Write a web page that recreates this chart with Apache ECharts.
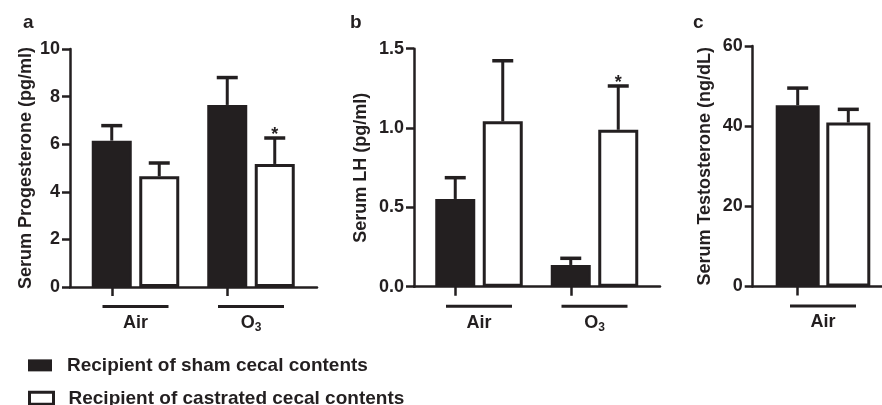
<html>
<head>
    <script src="https://cdn.jsdelivr.net/npm/echarts@6/dist/echarts.min.js"></script>
    <style>
        body { margin: 0 }
        #chart { width: 882px; height: 405px; }
    </style>
</head>
<body>
    <div id="chart"></div>
    <script>
        const INK = '#231f20';
        const FONT = '"Liberation Sans", Arial, sans-serif';
        const SHAM = 'Recipient of sham cecal contents';
        const CASTR = 'Recipient of castrated cecal contents';

        // panel a: progesterone
        const progGroups = ['Air', 'O3'];
        const progSham = [6.15, 7.65];
        const progShamSem = [0.63, 1.15];
        const progCastr = [4.65, 5.17];
        const progCastrSem = [0.56, 1.09];
        const progCastrSig = [0, 1];

        // panel b: LH
        const lhGroups = ['Air', 'O3'];
        const lhSham = [0.553, 0.137];
        const lhShamSem = [0.134, 0.042];
        const lhCastr = [1.042, 0.989];
        const lhCastrSem = [0.382, 0.276];
        const lhCastrSig = [0, 1];

        // panel c: testosterone
        const testoGroups = ['Air'];
        const testoSham = [45.2];
        const testoShamSem = [4.3];
        const testoCastr = [40.9];
        const testoCastrSem = [3.3];
        const testoCastrSig = [0];

        const panels = [
            {
                letter: 'a', title: 'Serum Progesterone (pg/ml)', groups: progGroups,
                sham: progSham, shamSem: progShamSem, castr: progCastr, castrSem: progCastrSem, sig: progCastrSig,
                max: 10, interval: 2, digits: 0,
                left: 70, width: 247, top: 49, height: 238, centers: [135.5, 251], spacing: 47.5,
                barWidth: 40, nameGap: 28, letterLeft: 18
            },
            {
                letter: 'b', title: 'Serum LH (pg/ml)', groups: lhGroups,
                sham: lhSham, shamSem: lhShamSem, castr: lhCastr, castrSem: lhCastrSem, sig: lhCastrSig,
                max: 1.5, interval: 0.5, digits: 1,
                left: 414, width: 246, top: 48.7, height: 238, centers: [479, 594.5], spacing: 47.5,
                barWidth: 40, nameGap: 37, letterLeft: 345
            },
            {
                letter: 'c', title: 'Serum Testosterone (ng/dL)', groups: testoGroups,
                sham: testoSham, shamSem: testoShamSem, castr: testoCastr, castrSem: testoCastrSem, sig: testoCastrSig,
                max: 60, interval: 20, digits: 0,
                left: 752.7, width: 129.3, top: 46, height: 240.5, centers: [823], spacing: 50.6,
                barWidth: 44, nameGap: 32, letterLeft: 688
            }
        ];

        const groupLabel = (g) => g === 'O3' ? '{u|}\n{t|O}{s|3}' : '{u|}\n{t|' + g + '}';

        const errRender = (params, api) => {
            const x = api.value(0);
            const p0 = api.coord([x, api.value(1)]);
            const p1 = api.coord([x, api.value(2)]);
            const children = [
                { type: 'line', shape: { x1: p0[0], y1: p0[1], x2: p1[0], y2: p1[1] }, style: { stroke: INK, lineWidth: 3 } },
                { type: 'line', shape: { x1: p1[0] - 10.5, y1: p1[1], x2: p1[0] + 10.5, y2: p1[1] }, style: { stroke: INK, lineWidth: 3.5 } }
            ];
            if (api.value(3)) {
                children.push({
                    type: 'text', x: p1[0], y: p1[1] - 18,
                    style: { text: '*', fill: INK, font: 'bold 18px ' + FONT, align: 'center', verticalAlign: 'top' }
                });
            }
            return { type: 'group', children };
        };

        const grid = [], xAxis = [], yAxis = [], series = [], title = [];

        panels.forEach(p => {
            // frame grid: y axis and the baseline
            const fi = grid.length;
            grid.push({ left: p.left, top: p.top, width: p.width, height: p.height });
            xAxis.push({
                gridIndex: fi, type: 'value', min: 0, max: 1,
                axisLine: { show: true, lineStyle: { color: INK, width: 2.5 } },
                axisTick: { show: false }, axisLabel: { show: false }, splitLine: { show: false }
            });
            yAxis.push({
                gridIndex: fi, type: 'value', min: 0, max: p.max, interval: p.interval,
                name: p.title, nameLocation: 'middle', nameGap: p.nameGap, nameMoveOverlap: false,
                nameTextStyle: { color: INK, fontFamily: FONT, fontWeight: 'bold', fontSize: 18 },
                axisLine: { show: true, lineStyle: { color: INK, width: 2.5 } },
                axisTick: { show: true, length: 8, lineStyle: { color: INK, width: 2.5 } },
                axisLabel: {
                    color: INK, fontFamily: FONT, fontWeight: 'bold', fontSize: 18, margin: 10,
                    formatter: v => v.toFixed(p.digits)
                },
                splitLine: { show: false }
            });
            title.push({
                text: p.letter, left: p.letterLeft, top: 1,
                textStyle: { color: INK, fontFamily: FONT, fontWeight: 'bold', fontSize: 19 }
            });

            // one grid per exposure group, two bars each
            p.groups.forEach((g, k) => {
                const gi = grid.length;
                grid.push({ left: p.centers[k] - p.spacing, top: p.top, width: p.spacing * 2, height: p.height });
                xAxis.push({
                    gridIndex: gi, type: 'category', data: ['sham', 'castrated'],
                    name: groupLabel(g), nameLocation: 'middle', nameGap: 18,
                    nameTextStyle: {
                        rich: {
                            u: { width: 66, height: 3, backgroundColor: INK },
                            t: { color: INK, fontFamily: FONT, fontWeight: 'bold', fontSize: 18, lineHeight: 30 },
                            s: { color: INK, fontFamily: FONT, fontWeight: 'bold', fontSize: 12, lineHeight: 22, verticalAlign: 'bottom' }
                        }
                    },
                    axisLine: { show: false },
                    axisTick: { show: true, alignWithLabel: true, length: 9, lineStyle: { color: INK, width: 2.5 } },
                    axisLabel: { show: false }
                });
                yAxis.push({ gridIndex: gi, type: 'value', min: 0, max: p.max, show: false });

                series.push({
                    name: SHAM, type: 'bar', xAxisIndex: gi, yAxisIndex: gi,
                    barWidth: p.barWidth, barGap: '-100%',
                    itemStyle: { color: INK, borderColor: INK, borderWidth: 2 },
                    data: [p.sham[k], '-']
                });
                series.push({
                    name: CASTR, type: 'bar', xAxisIndex: gi, yAxisIndex: gi,
                    barWidth: p.barWidth, barGap: '-100%',
                    itemStyle: { color: '#ffffff', borderColor: INK, borderWidth: 3 },
                    data: ['-', p.castr[k]]
                });
                series.push({
                    type: 'custom', xAxisIndex: gi, yAxisIndex: gi, z: 1,
                    renderItem: errRender,
                    encode: { x: 0, y: [1, 2] },
                    data: [
                        [0, p.sham[k], p.sham[k] + p.shamSem[k], 0],
                        [1, p.castr[k], p.castr[k] + p.castrSem[k], p.sig[k]]
                    ]
                });
            });
        });

        const legendBase = {
            left: 28, padding: 0, itemWidth: 24, itemHeight: 12, icon: 'rect', selectedMode: false,
            textStyle: { color: INK, fontFamily: FONT, fontWeight: 'bold', fontSize: 19, padding: [0, 0, 0, 10] }
        };

        const chart = echarts.init(document.getElementById('chart'));
        chart.setOption({
            animation: false,
            title,
            grid, xAxis, yAxis, series,
            legend: [
                Object.assign({}, legendBase, {
                    top: 349,
                    data: [{ name: SHAM, itemStyle: { color: INK, borderWidth: 0 } }]
                }),
                Object.assign({}, legendBase, {
                    top: 382,
                    data: [{ name: CASTR, itemStyle: { color: '#ffffff', borderColor: INK, borderWidth: 3 } }]
                })
            ]
        });
    </script>
</body>
</html>
